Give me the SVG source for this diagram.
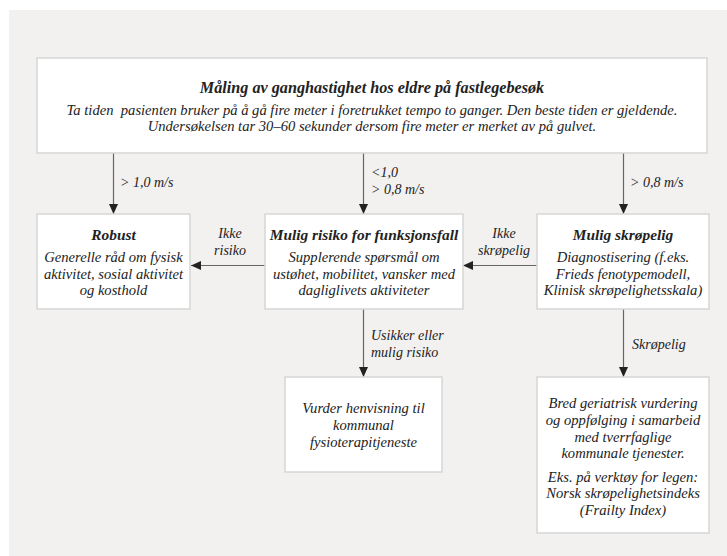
<svg xmlns="http://www.w3.org/2000/svg" width="727" height="556" viewBox="0 0 727 556">
<defs>
<style>
.bg{fill:#f2f1ef}
.box{fill:#fff;stroke:#d6d6d6;stroke-width:1.5}
.t{font-family:"Liberation Serif",serif;font-style:italic;font-size:14.6px;fill:#222;text-anchor:middle}
.lb{font-size:14px}
.b{font-weight:bold;font-size:15.4px}
.h{font-size:16.2px}
.l{text-anchor:start}
.con{stroke:#666;stroke-width:1.2;fill:none;marker-end:url(#ah)}
</style>
<marker id="ah" markerUnits="userSpaceOnUse" markerWidth="10" markerHeight="9" refX="10" refY="4.5" orient="auto">
<path d="M0,0 L10,4.5 L0,9 z" fill="#222"/>
</marker>
</defs>
<rect x="0" y="0" width="727" height="556" fill="#fff"/>
<rect class="bg" x="9" y="10" width="718" height="546"/>

<g id="connectors">
<line class="con" x1="113.5" y1="153" x2="113.5" y2="214"/>
<line class="con" x1="363.5" y1="153" x2="363.5" y2="214"/>
<line class="con" x1="623.5" y1="153" x2="623.5" y2="214"/>
<line class="con" x1="265" y1="265.5" x2="191" y2="265.5"/>
<line class="con" x1="537" y1="265.5" x2="463" y2="265.5"/>
<line class="con" x1="363.5" y1="309" x2="363.5" y2="377"/>
<line class="con" x1="623.5" y1="309" x2="623.5" y2="377"/>
<text class="t lb l" x="120" y="187">&gt; 1,0 m/s</text>
<text class="t lb l" x="371" y="177">&lt;1,0</text>
<text class="t lb l" x="371" y="194">&gt; 0,8 m/s</text>
<text class="t lb l" x="630" y="187">&gt; 0,8 m/s</text>
<text class="t lb" x="230" y="238">Ikke</text>
<text class="t lb" x="230" y="255">risiko</text>
<text class="t lb" x="504" y="238">Ikke</text>
<text class="t lb" x="504" y="255">skrøpelig</text>
<text class="t lb l" x="371" y="340">Usikker eller</text>
<text class="t lb l" x="371" y="357">mulig risiko</text>
<text class="t lb l" x="632" y="349">Skrøpelig</text>
</g>

<g id="node-top">
<rect class="box" x="37" y="58" width="670" height="95"/>
<text class="t b h" x="372" y="93">Måling av ganghastighet hos eldre på fastlegebesøk</text>
<text class="t" x="372" y="115" style="white-space:pre">Ta tiden  pasienten bruker på å gå fire meter i foretrukket tempo to ganger. Den beste tiden er gjeldende.</text>
<text class="t" x="372" y="131">Undersøkelsen tar 30–60 sekunder dersom fire meter er merket av på gulvet.</text>
</g>

<g id="node-robust">
<rect class="box" x="37" y="214" width="153" height="95"/>
<text class="t b" x="113.5" y="240">Robust</text>
<text class="t" x="113.5" y="262">Generelle råd om fysisk</text>
<text class="t" x="113.5" y="279">aktivitet, sosial aktivitet</text>
<text class="t" x="113.5" y="295">og kosthold</text>
</g>

<g id="node-risiko">
<rect class="box" x="265" y="214" width="198" height="95"/>
<text class="t b" x="364" y="240">Mulig risiko for funksjonsfall</text>
<text class="t" x="364" y="262">Supplerende spørsmål om</text>
<text class="t" x="364" y="279">ustøhet, mobilitet, vansker med</text>
<text class="t" x="364" y="295">dagliglivets aktiviteter</text>
</g>

<g id="node-skropelig">
<rect class="box" x="537" y="214" width="172" height="95"/>
<text class="t b" x="623" y="240">Mulig skrøpelig</text>
<text class="t" x="623" y="262">Diagnostisering (f.eks.</text>
<text class="t" x="623" y="279">Frieds fenotypemodell,</text>
<text class="t" x="623" y="295">Klinisk skrøpelighetsskala)</text>
</g>

<g id="node-fysio">
<rect class="box" x="285" y="377" width="157" height="95"/>
<text class="t" x="363.5" y="413">Vurder henvisning til</text>
<text class="t" x="363.5" y="430">kommunal</text>
<text class="t" x="363.5" y="447">fysioterapitjeneste</text>
</g>

<g id="node-geriatrisk">
<rect class="box" x="537" y="377" width="172" height="156"/>
<text class="t" x="623" y="408">Bred geriatrisk vurdering</text>
<text class="t" x="623" y="425">og oppfølging i samarbeid</text>
<text class="t" x="623" y="442">med tverrfaglige</text>
<text class="t" x="623" y="458">kommunale tjenester.</text>
<text class="t" x="623" y="482">Eks. på verktøy for legen:</text>
<text class="t" x="623" y="498">Norsk skrøpelighetsindeks</text>
<text class="t" x="623" y="515">(Frailty Index)</text>
</g>
</svg>
